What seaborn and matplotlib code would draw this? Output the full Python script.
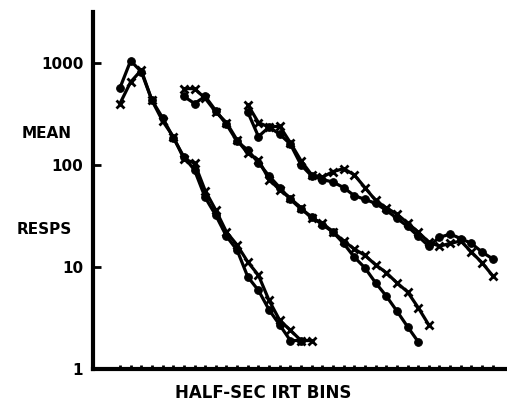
import matplotlib
matplotlib.use("Agg")
import matplotlib.pyplot as plt
import seaborn as sns

# bins (half-sec IRT bins), each condition displaced 6 bins to the right
bins_a_dot = list(range(3, 21))
resp_a_dot = [570, 1050, 820, 430, 290, 185, 120, 89, 48, 32, 20, 14.6, 8.0, 5.9, 3.8, 2.7, 1.9, 1.9]
bins_a_x = list(range(3, 22))
resp_a_x = [400, 650, 850, 430, 270, 190, 115, 104, 56, 36, 22, 16.4, 11.2, 8.3, 4.7, 3.0, 2.4, 1.9, 1.9]

bins_b_dot = list(range(9, 32))
resp_b_dot = [470, 400, 470, 340, 250, 170, 140, 105, 78, 60, 46, 37, 31, 26, 22, 17, 12.5, 9.8, 7.0, 5.2, 3.7, 2.6, 1.85]
bins_b_x = list(range(9, 33))
resp_b_x = [560, 560, 450, 330, 260, 175, 130, 112, 72, 57, 47, 38, 30, 27, 22, 18, 15, 13, 10.5, 8.8, 7.0, 5.7, 4.0, 2.7]

bins_c_dot = list(range(15, 39))
resp_c_dot = [330, 190, 235, 200, 160, 100, 78, 72, 68, 60, 50, 46, 42, 36, 30, 25, 20, 16, 19.5, 21, 19, 17, 14, 12]
bins_c_x = list(range(15, 39))
resp_c_x = [390, 260, 235, 240, 165, 110, 80, 76, 86, 92, 80, 60, 45, 38, 33, 27, 22, 17.5, 16, 17, 18, 14, 11, 8.2]

y_ticks = [1, 10, 100, 1000]
y_tick_labels = ["1", "10", "100", "1000"]

sns.set_style("ticks")
plt.rcParams["font.family"] = ["DejaVu Sans"]
plt.rcParams.update({"text.color": "black", "axes.edgecolor": "black",
                     "xtick.color": "black", "ytick.color": "black"})

fig = plt.figure(figsize=(5.07, 4.12), dpi=100)
ax = fig.add_axes([0.1834, 0.1044, 0.8126, 0.8666])

for xs, ys in [(bins_a_dot, resp_a_dot), (bins_b_dot, resp_b_dot), (bins_c_dot, resp_c_dot)]:
    sns.lineplot(x=xs, y=ys, ax=ax, color="black", lw=2.3, marker="o",
                 markersize=5.5, markeredgecolor="black")
for xs, ys in [(bins_a_x, resp_a_x), (bins_b_x, resp_b_x), (bins_c_x, resp_c_x)]:
    sns.lineplot(x=xs, y=ys, ax=ax, color="black", lw=2.3, marker="x",
                 markersize=5.5, markeredgewidth=2.0, markeredgecolor="black")

ax.set_yscale("log")
ax.set_ylim(1, 3160)
ax.set_xlim(0.465, 39.15)
ax.set_yticks(y_ticks)
ax.set_yticklabels(y_tick_labels, fontsize=11, fontweight="bold", color="black")
ax.minorticks_off()
ax.set_xticks(list(range(3, 39)))
ax.set_xticklabels([])
ax.tick_params(axis="y", direction="in", length=6, width=2, pad=7)
ax.tick_params(axis="x", direction="in", length=3, width=2)

for side in ["top", "right"]:
    ax.spines[side].set_visible(False)
for side in ["left", "bottom"]:
    ax.spines[side].set_linewidth(3)
    ax.spines[side].set_color("black")

fig.text(47 / 507, 1 - 133 / 412, "MEAN", fontsize=11, fontweight="bold", ha="center", va="center")
fig.text(44 / 507, 1 - 230 / 412, "RESPS", fontsize=11, fontweight="bold", ha="center", va="center")
fig.text(263 / 507, 1 - 393 / 412, "HALF-SEC IRT BINS", fontsize=12, fontweight="bold", ha="center", va="center")

fig.savefig("out.png", dpi=100)
